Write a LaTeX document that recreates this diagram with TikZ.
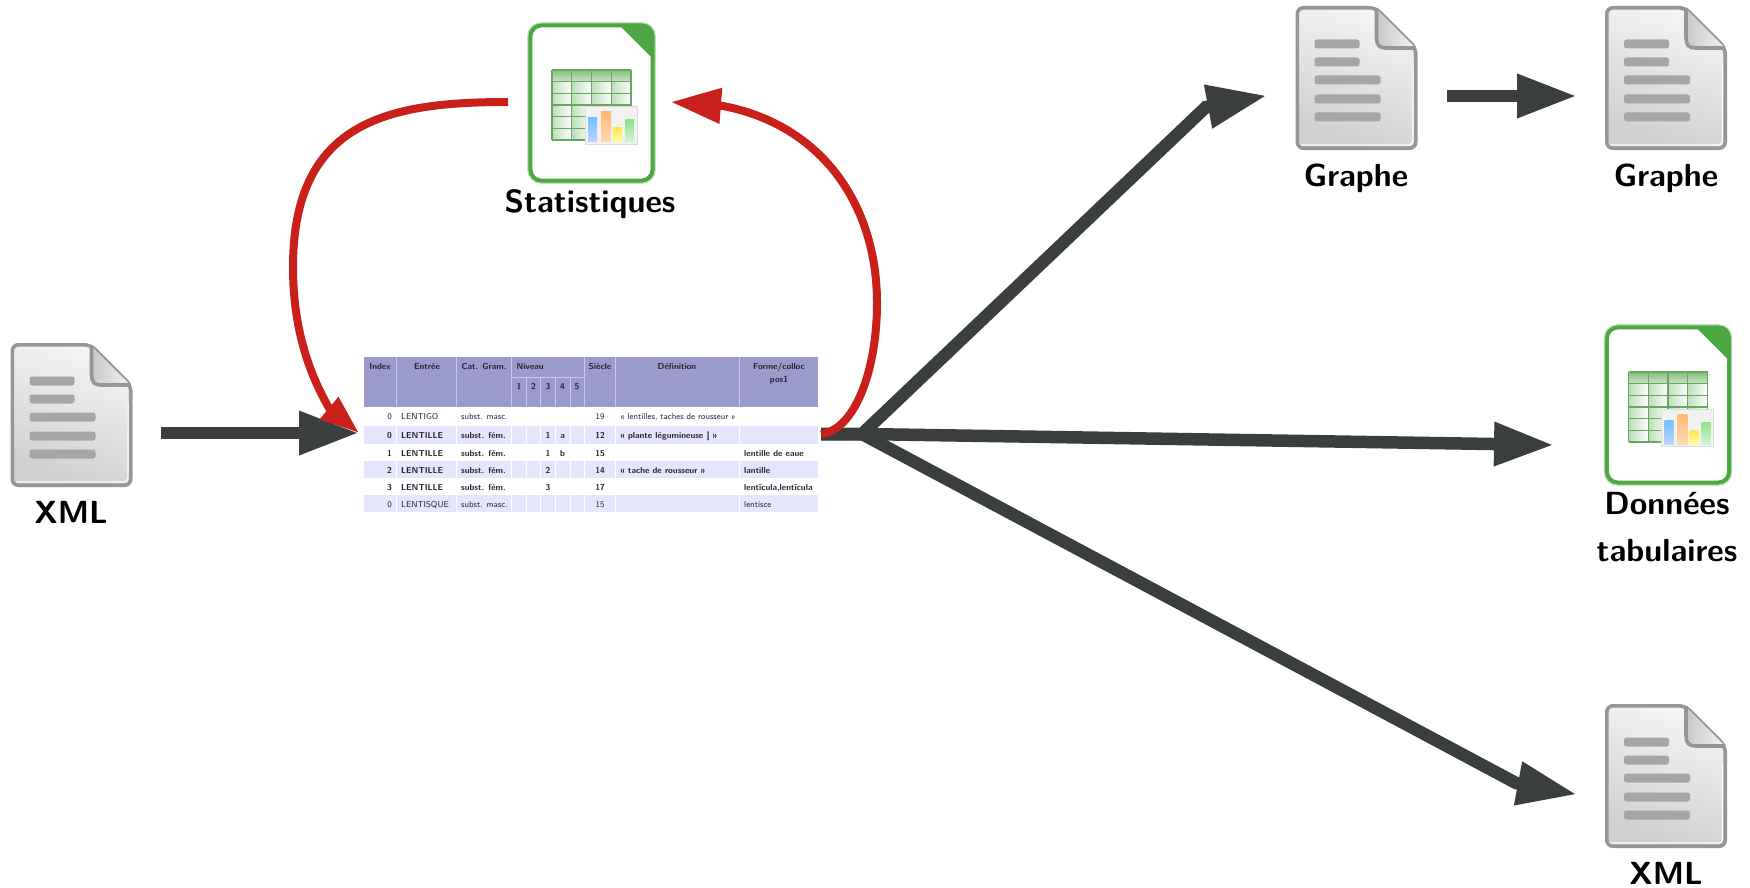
\documentclass[tikz,border=0pt]{standalone}
\usepackage{fontspec}
\usetikzlibrary{arrows.meta}
\definecolor{dk}{HTML}{3A3F3D}
\definecolor{rd}{HTML}{C9201C}
\definecolor{hd}{HTML}{9A9ACB}
\definecolor{bd}{HTML}{E5E5FB}
\definecolor{gl}{HTML}{C8C8E8}
\definecolor{gn}{HTML}{4DA843}
\definecolor{gg}{HTML}{6BA564}
\definecolor{ink}{HTML}{25252F}
\definecolor{barg}{HTML}{A6A6A6}
\definecolor{edge}{HTML}{969696}
\newcounter{cellno}
\newcommand{\tabf}{\fontsize{8.6}{10}\selectfont\sffamily}
\newcommand{\tabbold}{\renewcommand{\tabf}{\fontsize{8.6}{10}\selectfont\sffamily\bfseries}}
\newcommand{\tcell}[4]{\stepcounter{cellno}\node[tabtxt,anchor=#1] (cell\arabic{cellno}) at (#2,#3) {#4};}
\tikzset{
 arr/.style={draw=dk,line width=12.5pt,-{Triangle[length=60pt,width=41pt,fill=dk]}},
 redA/.style={draw=rd,line width=8pt,-{Triangle[length=39pt,width=27pt,fill=rd]}},
 redB/.style={draw=rd,line width=8pt,-{Triangle[length=50pt,width=34pt,fill=rd]}},
 lab/.style={font=\fontsize{32}{35}\selectfont\sffamily\bfseries,text=black,anchor=base,inner sep=0pt},
 tabtxt/.style={font=\tabf,text=ink,inner sep=0pt},
 docicon/.pic={
  \path[shade,top color=white!96!black,bottom color=black!19,shading angle=-20,rounded corners=6pt]
    (1.8,1.8) -- (80,1.8) -- (120.2,42) -- (120.2,142.2) -- (1.8,142.2) -- cycle;
  \draw[white,line width=1.4pt,rounded corners=4pt] (4,139) -- (117.5,139) -- (117.8,60);
  \draw[edge,line width=3.6pt,line join=round,rounded corners=6pt]
    (1.8,1.8) -- (80,1.8) -- (120.2,42) -- (120.2,142.2) -- (1.8,142.2) -- cycle;
  \path[shade,left color=black!22,right color=black!5,rounded corners=2pt] (80,2) -- (120,42) -- (88,42) -- (82,36) -- cycle;
  \draw[edge,line width=3.6pt,line join=round] (81,2) -- (81,32) .. controls (81,39) and (84,42) .. (90,42) -- (120,42);
  \foreach \yy/\xx in {38/64,56/64,74/85,93/85,111/85}{
   \fill[barg,rounded corners=2.5pt] (19,\yy-4.5) rectangle (\xx,\yy+4.5);
  }
 },
 sheeticon/.pic={
  \draw[gn!35,line width=6.5pt,rounded corners=11pt] (2.4,2.4) rectangle (124.6,157.6);
  \draw[gn,line width=4pt,fill=white,rounded corners=11pt] (2.4,2.4) rectangle (124.6,157.6);
  \fill[gn] (90,1) -- (114,1) .. controls (122,1) and (126,5) .. (126,13) -- (126,37) -- cycle;
  \foreach \cc in {0,1,2,3}{
   \foreach \rr in {1,...,5}{
    \path[shade,left color=gn!38,right color=white] (24+\cc*19.75,47+\rr*11.67) rectangle +(19.75,11.67);
   }
   \path[shade,top color=gn!70,bottom color=gn!30] (24+\cc*19.75,47) rectangle +(19.75,11.67);
   \draw[gg,line width=1.2pt] (24+\cc*19.75,47) -- +(0,70);
  }
  \draw[gg,line width=1.2pt] (103,47) -- (103,117);
  \foreach \rr in {0,...,6}{\draw[gg,line width=1.2pt] (24,47+\rr*11.67) -- (103,47+\rr*11.67);}
  \draw[black!14,line width=1pt,fill=white!95!black] (57,84) rectangle (109,121);
  \path[shade,top color=cyan!55!blue!55,bottom color=cyan!30!blue!25] (60,95) rectangle (69,119);
  \path[shade,top color=orange!55,bottom color=orange!30] (73,89) rectangle (83,119);
  \path[shade,top color=yellow!70!orange!70,bottom color=yellow!35] (85,105) rectangle (94,119);
  \path[shade,top color=green!40!gn!55,bottom color=green!30!gn!20] (97,97) rectangle (106,119);
 }
}
\begin{document}
\begin{tikzpicture}[x=1pt,y=-1pt]
\useasboundingbox (0,0) rectangle (1750,888);
% named points
\coordinate (srcEnd) at (161,433);
\coordinate (tabIn) at (359,433);
\coordinate (tabOut) at (821,434);
\coordinate (hub) at (862,434);
\coordinate (kA) at (1206,107);
\coordinate (tipA) at (1267,95.5);
\coordinate (gStart) at (1447,96);
\coordinate (tipG) at (1577,96);
\coordinate (kB) at (1493,444);
\coordinate (tipB) at (1554,445);
\coordinate (kC) at (1516,783);
\coordinate (tipC) at (1577,794.5);
\coordinate (stOut) at (508,102);
\coordinate (stIn) at (671,102);
% table
\node[minimum width=454pt,minimum height=155pt,inner sep=0pt] (tab) at (591,434.7) {};
\fill[hd] (364,357.3) rectangle (818,406.7);
\foreach \ya/\yb in {426/444,461/478,495/512.3}{\fill[bd] (364,\ya) rectangle (818,\yb);}
\foreach \xx in {396,456.7,511,584,615.3,739}{\draw[gl,line width=1pt] (\xx,357.3) -- (\xx,406.7);}
\foreach \xx in {526,540.7,555.3,570}{\draw[gl,line width=1pt] (\xx,377.7) -- (\xx,406.7);}
\draw[gl,line width=1pt] (511,377.7) -- (584,377.7);
\foreach \ya/\yb in {426/444,461/478,495/512.3}{
 \foreach \xx in {396,456.7,511,526,540.7,555.3,570,584,615.3,739}{\draw[white,line width=1pt] (\xx,\ya) -- (\xx,\yb);}
}
% header
\begin{scope}\tabbold
\tcell{base}{380}{369}{Index}
\tcell{base}{427}{369}{Entrée}
\tcell{base}{484}{369}{Cat. Gram.}
\tcell{base west}{516.5}{369}{Niveau}
\tcell{base}{600}{369}{Siècle}
\tcell{base}{677}{369}{Définition}
\tcell{base}{779}{369}{Forme/colloc}
\tcell{base}{779}{382}{pos1}
\tcell{base}{519}{389}{1}
\tcell{base}{533.5}{389}{2}
\tcell{base}{548}{389}{3}
\tcell{base}{562.5}{389}{4}
\tcell{base}{577}{389}{5}
\end{scope}
% row 1
\tcell{base east}{392}{419}{0}
\tcell{base west}{401}{419}{LENTIGO}
\tcell{base west}{461}{419}{subst. masc.}
\tcell{base}{600}{419}{19}
\tcell{base west}{620}{419}{« lentilles, taches de rousseur »}
% rows 2-5
\begin{scope}\tabbold
\tcell{base east}{392}{438}{0}
\tcell{base west}{401}{438}{LENTILLE}
\tcell{base west}{461}{438}{subst. fém.}
\tcell{base}{548}{438}{1}
\tcell{base}{562.5}{438}{a}
\tcell{base}{600}{438}{12}
\tcell{base west}{620}{438}{« plante légumineuse ] »}
\tcell{base east}{392}{456}{1}
\tcell{base west}{401}{456}{LENTILLE}
\tcell{base west}{461}{456}{subst. fém.}
\tcell{base}{548}{456}{1}
\tcell{base}{562.5}{456}{b}
\tcell{base}{600}{456}{15}
\tcell{base west}{744}{456}{lentille de eaue}
\tcell{base east}{392}{473}{2}
\tcell{base west}{401}{473}{LENTILLE}
\tcell{base west}{461}{473}{subst. fém.}
\tcell{base}{548}{473}{2}
\tcell{base}{600}{473}{14}
\tcell{base west}{620}{473}{« tache de rousseur »}
\tcell{base west}{744}{473}{lantille}
\tcell{base east}{392}{490}{3}
\tcell{base west}{401}{490}{LENTILLE}
\tcell{base west}{461}{490}{subst. fém.}
\tcell{base}{548}{490}{3}
\tcell{base}{600}{490}{17}
\tcell{base west}{744}{490}{lentīcula,lentīcula}
\end{scope}
% row 6
\tcell{base east}{392}{507}{0}
\tcell{base west}{401}{507}{LENTISQUE}
\tcell{base west}{461}{507}{subst. masc.}
\tcell{base}{600}{507}{15}
\tcell{base west}{744}{507}{lentisce}
% icons
\pic at (10.5,343) {docicon};
\pic at (1295.5,6) {docicon};
\pic at (1605,6) {docicon};
\pic at (1605,704) {docicon};
\pic at (528,23) {sheeticon};
\pic at (1604.5,325) {sheeticon};
% labels
\node[lab] (lxml) at (71,523) {XML};
\node[lab] (lstat) at (590,212) {Statistiques};
\node[lab] (lg1) at (1356,186) {Graphe};
\node[lab] (lg2) at (1666,186) {Graphe};
\node[lab] (ld1) at (1667,514) {Données};
\node[lab] (ld2) at (1667,561) {tabulaires};
\node[lab] (lxml2) at (1666,884) {XML};
% connectors
\draw[arr] (srcEnd) -- (tabIn);
\draw[arr] (tabOut) -- (hub) -- (kA) -- (tipA);
\draw[arr] (tabOut) -- (hub) -- (kB) -- (tipB);
\draw[arr] (tabOut) -- (hub) -- (kC) -- (tipC);
\draw[arr] (gStart) -- (tipG);
\draw[redA] (stOut) .. controls (390,102) and (293,120) .. (293,267) .. controls (293,330) and (310,375) .. (329,408) -- (tabIn);
\draw[redB] (tabOut) .. controls (855,430) and (877,370) .. (877,303) .. controls (877,205) and (822,125) .. (723,106) -- (stIn);
\end{tikzpicture}
\end{document}
